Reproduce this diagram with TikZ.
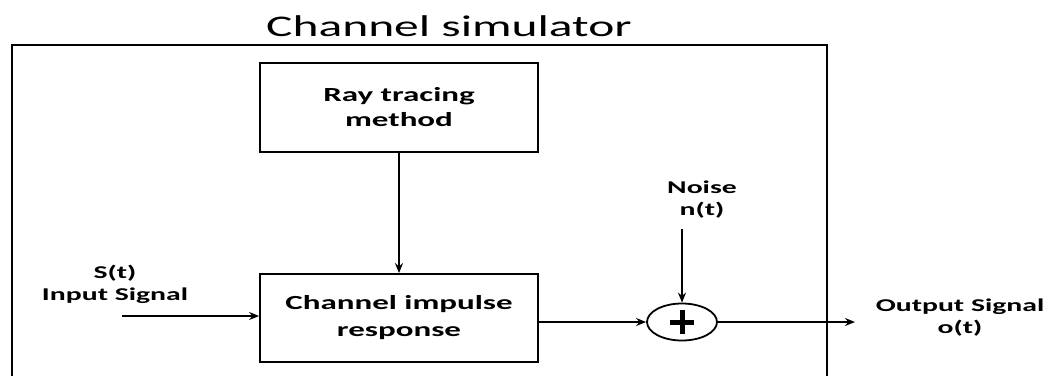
\documentclass[tikz,border=0pt]{standalone}
\usepackage{fontspec}
\setmainfont{Carlito}
\newfontfamily\widefont[FakeStretch=1.65]{Carlito}
\usetikzlibrary{arrows.meta,shapes.geometric}
\begin{document}
\begin{tikzpicture}[x=1pt,y=-1pt,
  blk/.style={draw,line width=1.8pt,minimum width=278pt,align=center,
    font=\widefont\fontsize{20}{25}\selectfont\bfseries,inner sep=0pt},
  lbl/.style={align=center,font=\widefont\fontsize{18}{22}\selectfont\bfseries,inner sep=0pt},
  sig/.style={line width=1.6pt,-{Stealth[length=10pt,width=8pt]}}]
\useasboundingbox (0,0) rectangle (1051,376);
% frame of the simulator, open at the bottom
\draw[line width=2.2pt] (12,376) -- (12,45) -- (827,45) -- (827,376);
\node[font=\widefont\fontsize{30}{34}\selectfont] (title) at (449,26) {Channel simulator};
% blocks
\node[blk,minimum height=89pt] (ray) at (399,107.5) {Ray tracing\\method};
\node[blk,minimum height=88pt] (cir) at (399,318) {Channel impulse\\[2pt]response};
\node[draw,ellipse,line width=1.8pt,minimum width=70pt,minimum height=37pt,inner sep=0pt] (sum) at (682,322) {};
\fill (sum.center) ++(-12,-2.5) rectangle ++(24,5);
\fill (sum.center) ++(-2.5,-12) rectangle ++(5,24);
% labels
\node[lbl] (in) at (115,284) {S(t)\\Input Signal};
\node[lbl] (noise) at (702,200) {Noise\\n(t)};
\node[lbl] (out) at (960,318) {Output Signal\\o(t)};
% connectors
\coordinate (src) at (122,316);
\coordinate (dst) at (855,322);
\draw[sig] (ray.south) -- (cir.north);
\draw[sig] (src) -- (src -| cir.west);
\draw[sig] (cir.east |- sum.west) -- (sum.west);
\draw[sig] (noise.south -| sum.north) ++(0,10) -- (sum.north);
\draw[sig] (sum.east) -- (dst);
\end{tikzpicture}
\end{document}
